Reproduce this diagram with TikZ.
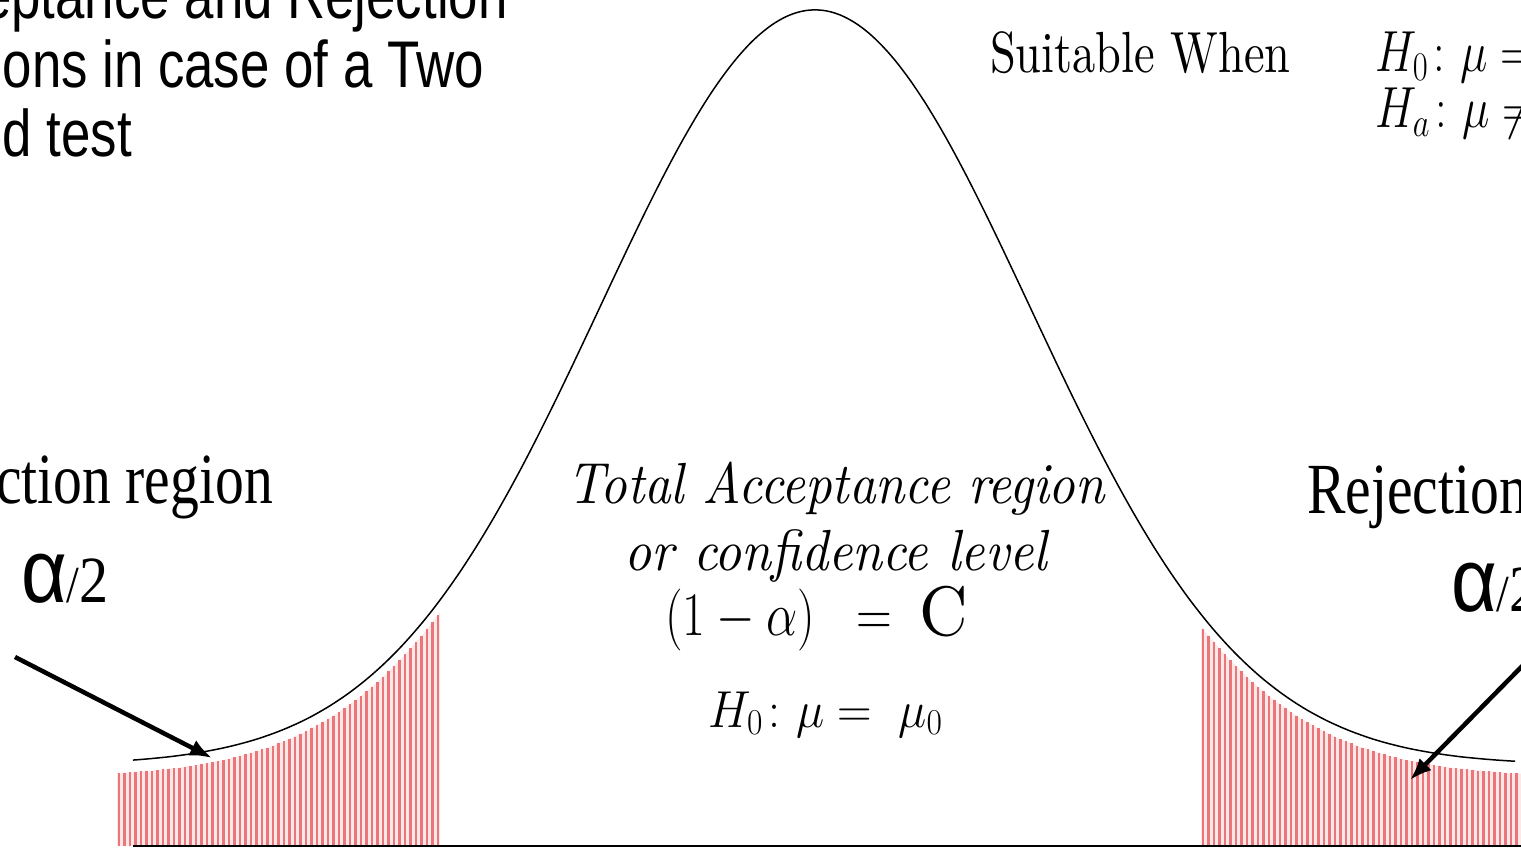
\RequirePackage{fix-cm}
\documentclass[tikz,border=0pt]{standalone}
\usepackage{xcolor}
\usepackage{graphicx}
\usepackage{tikz}
\usepackage{amsmath}
\usepackage{fontspec}
\newfontfamily\arialfont{Liberation Sans}
\newfontfamily\timesfont{Liberation Serif}
\newfontfamily\cambfont{lmroman10-regular}[Extension=.otf, ItalicFont=lmroman10-italic]
\usetikzlibrary{
    arrows.meta,
    positioning
}
\definecolor{hatchred}{RGB}{234,118,124}
\definecolor{hatchpink}{RGB}{253,232,232}

\begin{document}
\begin{tikzpicture}[
x=1pt,
y=-1pt,
declare function={bell(\t)=765-755*exp(-0.5*((\t-815)/215)^2);},
hatch/.style={
draw=hatchred,
line width=2.6pt
},
txt/.style={
inner sep=0pt,
xscale=0.8
},
pointer/.style={
-{Latex[length=22pt,width=17pt]},
line width=4.5pt
}
]

\useasboundingbox (0,0) rectangle (1521,848);
\clip (0,0) rectangle (1521,848);

\fill[hatchpink] (117,846) -- plot[domain=117:440, samples=60] (\x,{bell(\x)+12}) -- (440,846) -- cycle;
\fill[hatchpink] (1201,846) -- plot[domain=1201:1521, samples=60] (\x,{bell(\x)+12}) -- (1521,846) -- cycle;
\foreach \x in {119,124.5,...,440}
  \draw[hatch] (\x,846) -- (\x,{bell(\x)+12});
\foreach \x in {1203,1208.5,...,1521}
  \draw[hatch] (\x,846) -- (\x,{bell(\x)+12});

\draw[line width=1.5pt] plot[domain=133:1515, samples=200, smooth] (\x,{bell(\x)});
\draw[line width=2.5pt] (133,846) -- (1521,846);

\node[txt, anchor=base west, align=left,
font=\arialfont\fontsize{66}{69}\selectfont] (title) at (-106,157)
{Acceptance and Rejection\\Regions in case of a Two\\Tailed test};

\node[txt, anchor=base west, font=\cambfont\fontsize{58}{58}\selectfont] (suitable)
at (990,73) {Suitable When};

\node[txt, anchor=base west, font=\fontsize{58}{58}\selectfont] (hnull)
at (1375,72) {$H_0\colon \mu = \mu_0$};

\node[txt, anchor=base west, font=\fontsize{58}{58}\selectfont] (halt)
at (1375,128) {$H_a\colon \mu \neq \mu_0$};

\node[txt, anchor=base east, font=\timesfont\fontsize{72}{72}\selectfont] (rejleft)
at (273,503) {Rejection region};

\node[txt, anchor=base west, font=\timesfont\fontsize{72}{72}\selectfont] (rejright)
at (1307,513) {Rejection region};

\node[txt, xscale=1.1, anchor=base west] (alphaleft) at (21,602)
{{\arialfont\fontsize{90}{90}\selectfont α}{\timesfont\fontsize{52}{52}\selectfont /}{\timesfont\fontsize{66}{66}\selectfont 2}};

\node[txt, xscale=1.1, anchor=base west] (alpharight) at (1451,611)
{{\arialfont\fontsize{90}{90}\selectfont α}{\timesfont\fontsize{52}{52}\selectfont /}{\timesfont\fontsize{66}{66}\selectfont 2}};

\node[txt, xscale=1.12, anchor=base, font=\cambfont\itshape\fontsize{58}{58}\selectfont] (accept)
at (836,503) {Total Acceptance region};

\node[txt, xscale=1.14, anchor=base, font=\cambfont\itshape\fontsize{58}{58}\selectfont] (conf)
at (836,570) {or confidence level};

\node[txt, anchor=base west, font=\fontsize{62}{62}\selectfont] (level)
at (665,635) {$(1-\alpha)\;\;=\;\;${\cambfont\fontsize{70}{70}\selectfont\scalebox{1.2}[1]{C}}};

\node[txt, xscale=1.15, anchor=base west, font=\fontsize{52}{52}\selectfont] (hmid)
at (708,727) {$H_0\colon \mu =\; \mu_0$};

\coordinate (ltail) at (15,657);
\coordinate (ltip) at (212,758);
\coordinate (rtail) at (1540,648);
\coordinate (rtip) at (1410,780);

\draw[pointer] (ltail) -- (ltip);
\draw[pointer] (rtail) -- (rtip);

\end{tikzpicture}
\end{document}
